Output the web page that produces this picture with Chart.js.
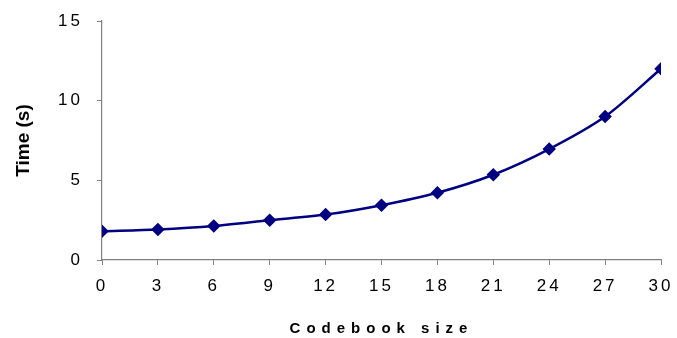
<!DOCTYPE html>
<html>
<head>
<meta charset="utf-8">
<script src="https://cdn.jsdelivr.net/npm/chart.js@4"></script>
<style>
  html, body { margin: 0; padding: 0; background: #fff; }
  #wrap { width: 677px; height: 338px; }
</style>
</head>
<body>
<div id="wrap"><canvas id="chart" width="677" height="338"></canvas></div>
<script>
const sizes = [0, 3, 6, 9, 12, 15, 18, 21, 24, 27, 30];
const times = [1.8, 1.92, 2.14, 2.5, 2.85, 3.44, 4.22, 5.35, 6.96, 9.0, 12.0];
const xTitle = 'Codebook size';
const yTitle = 'Time (s)';

// extra spacing between letters, canvas has no font option for it
const titleSpacing = { x: '6px', y: '0px' };
const tickSpacing = '3px';
const origTitle = Chart.Scale.prototype.drawTitle;
Chart.Scale.prototype.drawTitle = function () {
  const c = this.ctx, prev = c.letterSpacing;
  c.letterSpacing = titleSpacing[this.id] || '0px';
  origTitle.call(this);
  c.letterSpacing = prev;
};
const origLabels = Chart.Scale.prototype.drawLabels;
Chart.Scale.prototype.drawLabels = function (area) {
  const c = this.ctx, prev = c.letterSpacing;
  c.letterSpacing = tickSpacing;
  origLabels.call(this, area);
  c.letterSpacing = prev;
};

const axisColor = '#808080';
new Chart(document.getElementById('chart').getContext('2d'), {
  type: 'line',
  data: {
    datasets: [{
      data: sizes.map((s, i) => ({ x: s, y: times[i] })),
      borderColor: '#000080', backgroundColor: '#000080',
      borderWidth: 2.5, tension: 0.3,
      pointStyle: 'rectRot', pointRadius: 5, pointHoverRadius: 5
    }]
  },
  options: {
    responsive: false, animation: false,
    layout: { padding: { top: 21, right: 16, left: 0, bottom: 0 } },
    plugins: { legend: { display: false }, tooltip: { enabled: false } },
    scales: {
      x: {
        type: 'linear', min: 0, max: 30,
        afterFit: s => { s.height = 78; s.paddingRight = 0; },
        ticks: { stepSize: 3, color: '#000', padding: 11, font: { family: 'Liberation Sans', size: 17 } },
        grid: { display: true, drawOnChartArea: false, drawTicks: true, tickLength: 5, color: axisColor },
        border: { display: true, color: axisColor, width: 1.2 },
        title: { display: true, text: xTitle, color: '#000', padding: { top: 10, bottom: 0 },
          font: { family: 'Liberation Sans', size: 15, weight: 'bold' } }
      },
      y: {
        min: 0, max: 15,
        afterFit: s => { s.width = 102; s.paddingTop = 0; },
        ticks: { stepSize: 5, color: '#000', padding: 14, font: { family: 'Liberation Sans', size: 17 } },
        grid: { display: true, drawOnChartArea: false, drawTicks: true, tickLength: 5, color: axisColor },
        border: { display: true, color: axisColor, width: 1.2 },
        title: { display: true, text: yTitle, color: '#000', padding: { top: 12, bottom: 0 },
          font: { family: 'Liberation Sans', size: 19, weight: 'bold' } }
      }
    }
  }
});
</script>
</body>
</html>
